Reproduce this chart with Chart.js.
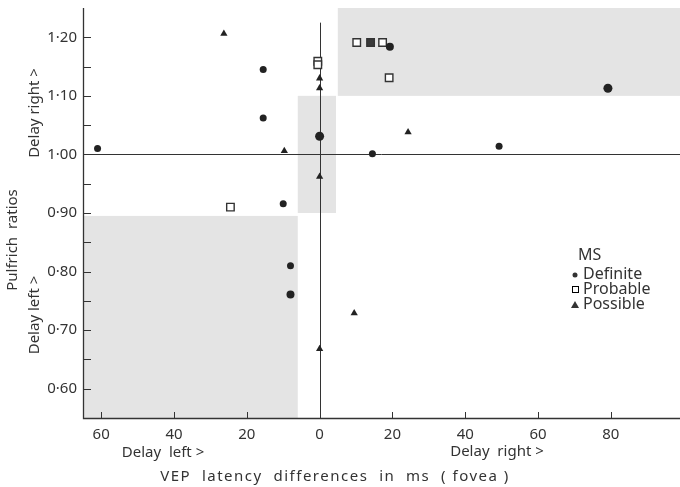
<!DOCTYPE html>
<html>
<head>
<meta charset="utf-8">
<script src="https://cdn.jsdelivr.net/npm/chart.js@4.4.0/dist/chart.umd.min.js"></script>
<style>
  html, body { margin: 0; padding: 0; background: #fff; }
  #wrap { position: relative; width: 680px; height: 487px; }
</style>
</head>
<body>
<div id="wrap"><canvas id="chart"></canvas></div>
<script>
// ── DATA ─────────────────────────────────────────────────────────
// x = VEP latency difference (ms, negative = delay left), y = Pulfrich ratio
const definite = [
  { x: -61, y: 1.010 }, { x: -15.5, y: 1.145 }, { x: -15.5, y: 1.062 },
  { x: -10, y: 0.916 }, { x: 0, y: 1.031 }, { x: -8, y: 0.810 },
  { x: -8, y: 0.761 }, { x: 14.5, y: 1.001 }, { x: 19.3, y: 1.184 },
  { x: 49.3, y: 1.014 }, { x: 79.2, y: 1.113 },
];
const definiteRadius = [3.5, 3.5, 3.5, 3.5, 4.5, 3.5, 4, 3.5, 4, 3.5, 4.5];

const probable = [
  { x: -0.5, y: 1.159 }, { x: -0.5, y: 1.153 }, { x: -24.5, y: 0.910 },
  { x: 10.2, y: 1.191 }, { x: 14, y: 1.191 }, { x: 17.3, y: 1.191 },
  { x: 19.1, y: 1.131 },
];
const probableFill = ["#fff", "#fff", "#fff", "#fff", "#3a3a3a", "#fff", "#fff"];

const possible = [
  { x: -26.3, y: 1.206 }, { x: -9.7, y: 1.006 }, { x: 0, y: 1.130 },
  { x: 0, y: 1.113 }, { x: 0, y: 0.962 }, { x: 0, y: 0.668 },
  { x: 9.5, y: 0.729 }, { x: 24.3, y: 1.038 },
];

// shaded zones (data coords)
const zones = [
  { x0: 5,   x1: 99, y0: 1.10, y1: 1.25 },
  { x0: -6,  x1: 4.5, y0: 0.90, y1: 1.10 },
  { x0: -65, x1: -6, y0: 0.55, y1: 0.895 },
];

const xTicks = [-60, -40, -20, 0, 20, 40, 60, 80];
const yTicks = [0.60, 0.65, 0.70, 0.75, 0.80, 0.85, 0.90, 0.95, 1.00, 1.05, 1.10, 1.15, 1.20];

const INK  = "#333";
const FONT = "'Noto Sans', sans-serif";

// ── PLUGINS ──────────────────────────────────────────────────────
const backdrop = {
  id: "backdrop",
  beforeDatasetsDraw(chart) {
    const { ctx, scales: { x, y }, chartArea: a } = chart;
    ctx.save();
    ctx.fillStyle = "#e4e4e4";
    zones.forEach(z => {
      const l = x.getPixelForValue(z.x0), r = x.getPixelForValue(z.x1);
      const t = y.getPixelForValue(z.y1), b = y.getPixelForValue(z.y0);
      ctx.fillRect(l, t, r - l, b - t);
    });

    // reference lines through (0, 1.00)
    ctx.strokeStyle = INK;
    ctx.lineWidth = 1;
    ctx.beginPath();
    const y1 = Math.round(y.getPixelForValue(1.0)) + 0.5;
    ctx.moveTo(a.left, y1); ctx.lineTo(a.right, y1);
    const x0 = Math.round(x.getPixelForValue(0)) + 0.5;
    ctx.moveTo(x0, y.getPixelForValue(1.225)); ctx.lineTo(x0, a.bottom);
    ctx.stroke();

    // axes
    ctx.lineWidth = 1.3;
    ctx.beginPath();
    ctx.moveTo(a.left + 0.5, a.top); ctx.lineTo(a.left + 0.5, a.bottom + 0.5);
    ctx.lineTo(a.right, a.bottom + 0.5);
    ctx.stroke();

    // inward tick marks
    ctx.lineWidth = 1;
    ctx.beginPath();
    yTicks.forEach(v => {
      const py = Math.round(y.getPixelForValue(v)) + 0.5;
      ctx.moveTo(a.left, py); ctx.lineTo(a.left + 8, py);
    });
    xTicks.forEach(v => {
      if (v === 0) return;
      const px = Math.round(x.getPixelForValue(v)) + 0.5;
      ctx.moveTo(px, a.bottom); ctx.lineTo(px, a.bottom - 6);
    });
    ctx.stroke();
    ctx.restore();
  },
};

const captions = {
  id: "captions",
  afterDraw(chart) {
    const { ctx } = chart;
    ctx.save();
    ctx.fillStyle = INK;
    ctx.textBaseline = "middle";
    ctx.font = `15px ${FONT}`;

    // y titles (rotated)
    const vtext = (txt, cx, cy) => {
      ctx.save();
      ctx.translate(cx, cy);
      ctx.rotate(-Math.PI / 2);
      ctx.textAlign = "center";
      ctx.fillText(txt, 0, 0);
      ctx.restore();
    };
    vtext("Pulfrich  ratios", 13, 240);
    vtext("Delay right >", 35, 113);
    vtext("Delay left >", 35, 315);

    // x titles
    ctx.textAlign = "center";
    ctx.fillText("Delay  left >", 163, 453);
    ctx.fillText("Delay  right >", 497, 452);
    ctx.letterSpacing = "1.5px";
    ctx.fillText("VEP  latency  differences  in  ms  ( fovea )", 335, 477);
    ctx.letterSpacing = "0px";

    // legend
    ctx.textAlign = "left";
    ctx.font = `16px ${FONT}`;
    ctx.fillText("MS", 578, 255);
    const items = chart.data.datasets;
    items.forEach((ds, i) => {
      const ly = 274 + i * 15;
      ctx.fillText(ds.label, 583, ly);
      ctx.beginPath();
      if (ds.pointStyle === "circle") {
        ctx.arc(575, ly + 1, 2.5, 0, Math.PI * 2);
        ctx.fill();
      } else if (ds.pointStyle === "rect") {
        ctx.lineWidth = 1;
        ctx.strokeRect(572.5, ly - 2.5, 6, 6);
      } else {
        ctx.moveTo(575, ly - 3); ctx.lineTo(579, ly + 4); ctx.lineTo(571, ly + 4);
        ctx.closePath();
        ctx.fill();
      }
    });
    ctx.restore();
  },
};

// ── CHART ────────────────────────────────────────────────────────
new Chart(document.getElementById("chart"), {
  type: "scatter",
  data: {
    datasets: [
      {
        label: "Definite",
        data: definite,
        pointStyle: "circle",
        pointRadius: definiteRadius,
        backgroundColor: "#222",
        borderColor: "#222",
        borderWidth: 0,
      },
      {
        label: "Probable",
        data: probable,
        pointStyle: "rect",
        pointRadius: 5.3,
        backgroundColor: probableFill,
        borderColor: "#333",
        borderWidth: 1.4,
      },
      {
        label: "Possible",
        data: possible,
        pointStyle: "triangle",
        pointRadius: 4.2,
        backgroundColor: "#222",
        borderColor: "#222",
        borderWidth: 0,
      },
    ],
  },
  options: {
    responsive: true,
    maintainAspectRatio: false,
    animation: false,
    layout: { autoPadding: false, padding: { top: 8, right: 0, left: 0, bottom: 0 } },
    plugins: {
      legend: { display: false },
      tooltip: { enabled: false },
    },
    scales: {
      x: {
        type: "linear",
        min: -65,
        max: 99,
        grid: { display: false, drawTicks: false },
        border: { display: false },
        afterBuildTicks: s => { s.ticks = xTicks.map(v => ({ value: v })); },
        afterFit: s => { s.height = 69; s.paddingLeft = 0; s.paddingRight = 0; },
        ticks: {
          color: INK,
          padding: 8,
          maxRotation: 0,
          autoSkip: false,
          font: { size: 15, family: FONT },
          callback: v => String(Math.abs(v)),
        },
      },
      y: {
        type: "linear",
        min: 0.55,
        max: 1.25,
        grid: { display: false, drawTicks: false },
        border: { display: false },
        afterBuildTicks: s => { s.ticks = yTicks.map(v => ({ value: v })); },
        afterFit: s => { s.width = 83; s.paddingTop = 0; s.paddingBottom = 0; },
        ticks: {
          color: INK,
          padding: 6,
          autoSkip: false,
          font: { size: 15, family: FONT },
          callback: v => {
            const k = Math.round(v * 100);
            return k % 10 === 0 ? (k / 100).toFixed(2).replace(".", "·") : "";
          },
        },
      },
    },
  },
  plugins: [backdrop, captions],
});
</script>
</body>
</html>
